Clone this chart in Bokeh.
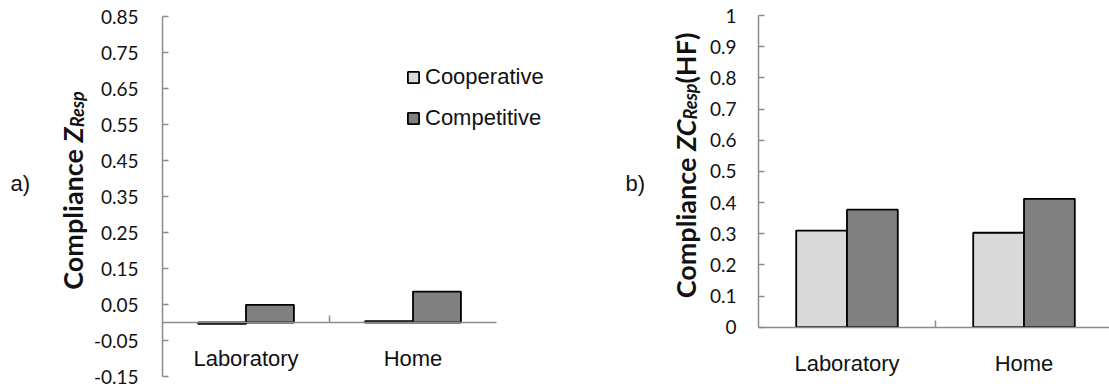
import math, glob, os
from bokeh.plotting import figure
from bokeh.models import Range1d, FixedTicker, LinearAxis, Label, Legend, LegendItem
from bokeh.layouts import row
from bokeh.embed import file_html
from bokeh.resources import INLINE

# ---------------- data ----------------
categories = ["Laboratory", "Home"]
series = ["Cooperative", "Competitive"]
zresp_coop = [-0.004, 0.004]
zresp_comp = [0.049, 0.086]
zc_coop = [0.310, 0.303]
zc_comp = [0.377, 0.412]
left_ticks = [-0.15, -0.05, 0.05, 0.15, 0.25, 0.35, 0.45, 0.55, 0.65, 0.75, 0.85]
left_tick_labels = ["-0.15", "-0.05", "0.05", "0.15", "0.25", "0.35", "0.45", "0.55", "0.65", "0.75", "0.85"]
right_ticks = [0, 0.1, 0.2, 0.3, 0.4, 0.5, 0.6, 0.7, 0.8, 0.9, 1]
right_tick_labels = ["0", "0.1", "0.2", "0.3", "0.4", "0.5", "0.6", "0.7", "0.8", "0.9", "1"]

# ---------------- style / layout ----------------
AXIS = "#8c8c8c"
COOP = "#d9d9d9"
COMP = "#808080"
TXT = "#111111"
TICK_FONT = "Lato"
ARIAL = "Liberation Sans"
TITLE_FONT = "Lato"
TITLE_SIZE = 27
SUB_SIZE = 18
BAR_W = 0.287
H = 388          # figure height
MBB = 6          # bottom border (x axis without labels)
FRAME_H = H - MBB


def find_font(name):
    dirs = ["/usr/share/fonts", "/usr/local/share/fonts",
            os.path.expanduser("~/.fonts"), os.path.expanduser("~/.local/share/fonts")]
    for d in dirs:
        hits = glob.glob(os.path.join(d, "**", name), recursive=True)
        if hits:
            return hits[0]
    return None


def text_len(text, fname, size, em):
    try:
        from PIL import ImageFont
        path = find_font(fname)
        if path:
            return ImageFont.truetype(path, size).getlength(text)
    except Exception:
        pass
    return em * size * len(text)


def make_chart(width, mbl, frame_w, px_per_cat, y_top_px, px_per_unit, ybounds,
               ticks, labels, standoff):
    # data ranges derived from the wanted pixel geometry of the frame
    y_top = ybounds[1] + y_top_px / px_per_unit
    y_bot = ybounds[1] - (FRAME_H - y_top_px) / px_per_unit
    x_end = frame_w / px_per_cat
    p = figure(width=width, height=H, output_backend="svg", toolbar_location=None,
               x_range=Range1d(0, x_end), y_range=Range1d(y_bot, y_top),
               x_axis_location=None, min_border_left=mbl, min_border_right=0,
               min_border_top=0, min_border_bottom=MBB)
    p.grid.visible = False
    p.outline_line_color = None
    p.background_fill_color = "white"
    p.border_fill_color = "white"
    ya = p.yaxis[0]
    ya.bounds = ybounds
    ya.ticker = FixedTicker(ticks=ticks)
    ya.major_label_overrides = dict(zip(ticks, labels))
    ya.major_tick_in = 6
    ya.major_tick_out = 0
    ya.minor_tick_in = 0
    ya.minor_tick_out = 0
    ya.axis_line_color = AXIS
    ya.axis_line_width = 1.5
    ya.major_tick_line_color = AXIS
    ya.major_tick_line_width = 1.5
    ya.major_label_standoff = standoff
    ya.major_label_text_font = TICK_FONT
    ya.major_label_text_font_size = "19px"
    ya.major_label_text_color = TXT

    n = len(categories)
    centers = [i + 0.5 for i in range(n)]
    dividers = [float(i) for i in range(1, n)]
    xa = LinearAxis(ticker=FixedTicker(ticks=dividers), bounds=(0, n),
                    major_label_overrides={d: "" for d in dividers},
                    major_label_text_font_size="0px", major_label_standoff=0,
                    fixed_location=0, major_tick_in=7, major_tick_out=0,
                    minor_tick_in=0, minor_tick_out=0,
                    axis_line_color=AXIS, axis_line_width=1.5,
                    major_tick_line_color=AXIS, major_tick_line_width=1.5)
    p.add_layout(xa, "below")
    # category names under the zero line
    p.text(x=centers, y=[0] * n, text=categories, y_offset=36, text_align="center",
           text_baseline="middle", text_font={"value": ARIAL}, text_font_size="22px",
           text_color=TXT)
    return p, centers


def add_bars(p, centers, coop, comp):
    r1 = p.vbar(x=[c - BAR_W / 2 for c in centers], width=BAR_W, top=coop, bottom=0,
                fill_color=COOP, line_color="black", line_width=1.8)
    r2 = p.vbar(x=[c + BAR_W / 2 for c in centers], width=BAR_W, top=comp, bottom=0,
                fill_color=COMP, line_color="black", line_width=1.8)
    return r1, r2


def title_fig(width, letter, letter_x, base_x, center_y, pieces):
    t = figure(width=width, height=H, output_backend="svg", toolbar_location=None,
               x_range=Range1d(0, 1), y_range=Range1d(0, 1),
               x_axis_location=None, y_axis_location=None,
               min_border_left=0, min_border_right=0, min_border_top=0, min_border_bottom=0)
    t.grid.visible = False
    t.outline_line_color = None
    t.background_fill_color = "white"
    t.border_fill_color = "white"
    t.add_layout(Label(x=letter_x, y=H - 189, x_units="screen", y_units="screen", text=letter,
                       text_font=ARIAL, text_font_size="22px", text_baseline="middle",
                       text_color=TXT))
    gap = text_len(" ", "Lato-Bold.ttf", TITLE_SIZE, 0.2)
    lens = []
    for txt, st, sz, sh in pieces:
        fn = "Lato-BoldItalic.ttf" if "italic" in st else "Lato-Bold.ttf"
        lens.append(text_len(txt, fn, sz, 0.55))
    total = sum(lens) + gap
    y = (H - center_y) - total / 2
    for i, (txt, st, sz, sh) in enumerate(pieces):
        t.add_layout(Label(x=base_x + sh, y=y, x_units="screen", y_units="screen", text=txt,
                           angle=math.pi / 2, text_font=TITLE_FONT, text_font_style=st,
                           text_font_size=f"{sz}px", text_align="left",
                           text_baseline="alphabetic", text_color=TXT))
        y += lens[i] + (gap if i == 0 else 0)
    return t


# ---------------- left chart ----------------
ta = title_fig(90, "a)", 10, 72, 196,
               [("Compliance", "bold", TITLE_SIZE, 0), ("Z", "bold italic", TITLE_SIZE, 0),
                ("Resp", "bold italic", SUB_SIZE, 4)])
p1, c1 = make_chart(470, 72, 398, 167, 16, 360, (-0.15, 0.85),
                    left_ticks, left_tick_labels, 24)
r1, r2 = add_bars(p1, c1, zresp_coop, zresp_comp)
leg = Legend(items=[LegendItem(label=series[0], renderers=[r1]),
                    LegendItem(label=series[1], renderers=[r2])],
             location=(244, FRAME_H - 131), padding=0, margin=0, border_line_alpha=0,
             background_fill_alpha=0, glyph_width=14, glyph_height=14,
             label_standoff=5, spacing=15, label_text_font=ARIAL,
             label_text_font_size="22px", label_text_color=TXT)
p1.add_layout(leg)

# ---------------- right chart ----------------
tb = title_fig(143, "b)", 65, 125, 171,
               [("Compliance", "bold", TITLE_SIZE, 0), ("ZC", "bold italic", TITLE_SIZE, 0),
                ("Resp", "bold italic", SUB_SIZE, 4), ("(HF)", "bold", TITLE_SIZE, 0)])
p2, c2 = make_chart(406, 55, 351, 177, 15, 311.7, (0, 1),
                    right_ticks, right_tick_labels, 22)
add_bars(p2, c2, zc_coop, zc_comp)

layout = row(ta, p1, tb, p2)
open("out.html", "w").write(file_html(layout, INLINE))
